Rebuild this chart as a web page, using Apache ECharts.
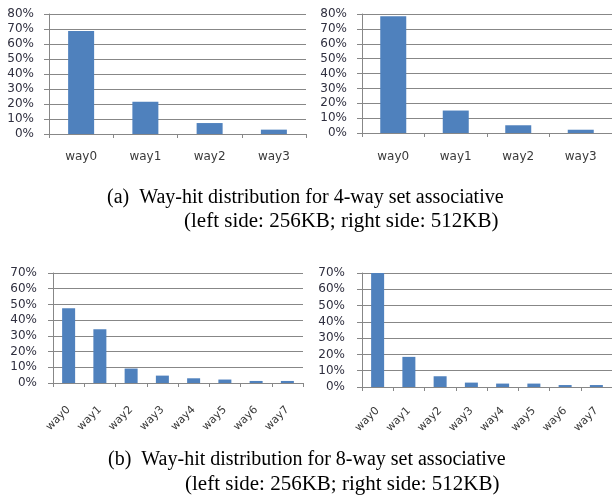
<!DOCTYPE html>
<html>
<head>
<meta charset="utf-8">
<script src="https://cdn.jsdelivr.net/npm/echarts@6/dist/echarts.min.js"></script>
<style>
  html, body { margin: 0; padding: 0; background: #fff; }
  #chart { width: 612px; height: 500px; }
</style>
</head>
<body>
<div id="chart"></div>
<script>
// Way categories
const ways4 = ['way0', 'way1', 'way2', 'way3'];
const ways8 = ['way0', 'way1', 'way2', 'way3', 'way4', 'way5', 'way6', 'way7'];

// Way-hit share (%) per way
const hits4way256KB = [68.7, 21.5, 7.3, 2.9];
const hits4way512KB = [78.5, 15.1, 5.2, 2.2];
const hits8way256KB = [47.6, 34.2, 9.2, 4.7, 3.0, 2.2, 1.3, 1.3];
const hits8way512KB = [70.0, 18.5, 6.6, 2.7, 2.1, 2.1, 1.2, 1.2];

// Value-axis ranges (%)
const yMax4 = 80;
const yMax8 = 70;
const yStep = 10;

// Figure captions
const captionA = ['(a)  Way-hit distribution for 4-way set associative', '(left side: 256KB; right side: 512KB)'];
const captionB = ['(b)  Way-hit distribution for 8-way set associative', '(left side: 256KB; right side: 512KB)'];

const AXIS_GREY = '#878787';
const BAR_BLUE = '#4F81BD';
const labelFont = 'DejaVu Sans';

function valueAxis(gridIndex, max, margin) {
  return {
    type: 'value', gridIndex, min: 0, max, interval: yStep,
    axisLine: { show: true, lineStyle: { color: AXIS_GREY, width: 1 } },
    axisTick: { show: true, length: 5, lineStyle: { color: AXIS_GREY } },
    splitLine: { show: true, lineStyle: { color: AXIS_GREY, width: 1 } },
    axisLabel: { formatter: '{value}%', color: '#2f2f3f', fontFamily: labelFont, fontSize: 12, margin }
  };
}

function categoryAxis(gridIndex, data, rotate, margin, fontSize) {
  return {
    type: 'category', gridIndex, data,
    axisLine: { show: true, lineStyle: { color: AXIS_GREY, width: 1 } },
    axisTick: { show: true, length: 4, interval: 0, lineStyle: { color: AXIS_GREY } },
    axisLabel: { interval: 0, rotate, color: '#3a3a3a', fontFamily: labelFont, fontSize, margin }
  };
}

function barSeries(i, data, width) {
  return {
    type: 'bar', xAxisIndex: i, yAxisIndex: i, data, barWidth: width,
    itemStyle: { color: BAR_BLUE }, silent: true, animation: false
  };
}

function captionText(lines, x1, x2, y1, y2) {
  const style = (text, size) => ({ text, fill: '#000', font: size + 'px "Liberation Serif"' });
  return [
    { type: 'text', left: x1, top: y1 - 11, style: style(lines[0], 20) },
    { type: 'text', left: x2, top: y2 - 11, style: style(lines[1], 21) }
  ];
}

const chart = echarts.init(document.getElementById('chart'), null, { renderer: 'canvas' });
chart.setOption({
  animation: false,
  backgroundColor: '#fff',
  grid: [
    { left: 49, top: 14, width: 257, height: 120 },
    { left: 362, top: 14, width: 250, height: 119 },
    { left: 53, top: 273, width: 250, height: 110 },
    { left: 362, top: 273, width: 252, height: 114 }
  ],
  xAxis: [
    categoryAxis(0, ways4, 0, 17, 12),
    categoryAxis(1, ways4, 0, 18, 12),
    categoryAxis(2, ways8, 45, 25, 11),
    categoryAxis(3, ways8, 45, 22, 11)
  ],
  yAxis: [
    valueAxis(0, yMax4, 15),
    valueAxis(1, yMax4, 15),
    valueAxis(2, yMax8, 16),
    valueAxis(3, yMax8, 17)
  ],
  series: [
    barSeries(0, hits4way256KB, 26),
    barSeries(1, hits4way512KB, 26),
    barSeries(2, hits8way256KB, 13),
    barSeries(3, hits8way512KB, 13)
  ],
  graphic: [
    ...captionText(captionA, 107, 184, 199, 222),
    ...captionText(captionB, 108, 185, 461, 485)
  ]
});
</script>
</body>
</html>
